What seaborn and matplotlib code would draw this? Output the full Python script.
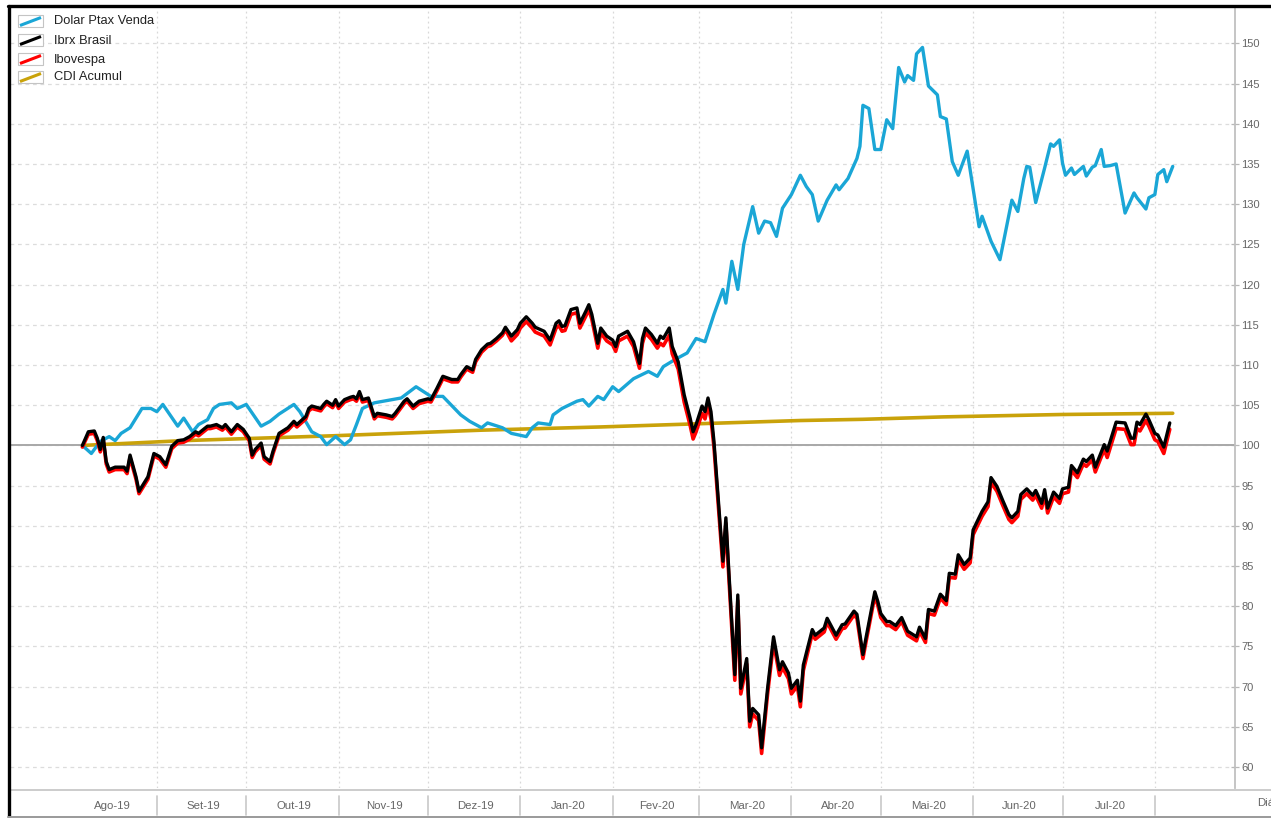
import numpy as np
import pandas as pd
import matplotlib
matplotlib.use("Agg")
import matplotlib.pyplot as plt
import matplotlib.dates as mdates
import matplotlib.transforms as mtransforms
from matplotlib.lines import Line2D
from matplotlib.patches import Rectangle
import seaborn as sns

# ---------------- data (days counted from 2019-08-01) ----------------
dolar_days = [6, 9, 12, 15, 17, 19, 22, 25, 26, 29, 31, 33, 38, 40, 43, 45, 48, 50, 52, 56, 58, 61, 66, 69, 72, 77, 79,
              83, 86, 88, 91, 94, 96, 98, 100, 104, 110, 113, 118, 123, 127, 133, 136, 140, 142, 147, 150, 155, 157, 159,
              163, 164, 167, 172, 174, 176, 179, 181, 184, 186, 191, 196, 199, 201, 205, 209, 212, 215, 218, 221, 222,
              224, 226, 228, 231, 233, 235, 237, 239, 241, 244, 247, 249, 251, 253, 256, 259, 260, 263, 266, 267, 268,
              270, 272, 274, 276, 278, 280, 282, 283, 285, 286, 288, 290, 293, 294, 296, 298, 300, 303, 307, 308, 311,
              314, 318, 320, 322, 323, 324, 326, 329, 331, 332, 334, 335, 336, 338, 339, 342, 343, 345, 346, 348, 349,
              351, 353, 356, 359, 360, 363, 364, 366, 367, 369, 370, 372]
dolar = [100.0, 99.0, 100.5, 101.1, 100.6, 101.5, 102.2, 104.0, 104.6, 104.6, 104.2, 105.1, 102.4, 103.4, 101.7, 102.6,
         103.2, 104.6, 105.1, 105.3, 104.6, 105.1, 102.4, 103.0, 103.9, 105.1, 104.2, 101.7, 101.1, 100.1, 101.1, 100.1,
         100.7, 102.6, 104.6, 105.3, 105.7, 105.9, 107.3, 106.1, 106.1, 103.8, 103.0, 102.2, 102.8, 102.2, 101.5, 101.1,
         102.2, 102.8, 102.6, 103.8, 104.6, 105.5, 105.7, 104.9, 106.1, 105.7, 107.3, 106.7, 108.3, 109.2, 108.6, 109.8,
         110.7, 111.5, 113.3, 112.9, 116.3, 119.4, 117.7, 122.9, 119.4, 125.0, 129.7, 126.4, 127.9, 127.7, 126.0, 129.5,
         131.2, 133.6, 132.2, 131.2, 127.9, 130.5, 132.4, 131.8, 133.2, 135.7, 137.2, 142.3, 141.9, 136.8, 136.8, 140.5,
         139.4, 147.0, 145.2, 146.0, 145.4, 148.7, 149.5, 144.7, 143.6, 140.9, 140.6, 135.3, 133.6, 136.6, 127.2, 128.5,
         125.4, 123.1, 130.5, 129.1, 133.2, 134.7, 134.6, 130.2, 134.5, 137.5, 137.2, 138.0, 135.1, 133.6, 134.5, 133.7,
         134.7, 133.5, 134.6, 134.8, 136.8, 134.7, 134.8, 135.0, 128.9, 131.4, 130.8, 129.4, 130.8, 131.2, 133.7, 134.3,
         132.8, 134.7]

ibrx_days = [6, 8, 10, 11, 12, 13, 14, 15, 17, 20, 21, 22, 24, 25, 27, 28, 30, 32, 34, 36, 38, 40, 42, 44, 45, 48, 49,
             51, 53, 54, 56, 58, 60, 62, 63, 64, 66, 67, 69, 70, 72, 75, 77, 78, 81, 82, 83, 86, 87, 88, 90, 91, 92, 94,
             96, 97, 98, 99, 100, 102, 104, 105, 108, 110, 111, 114, 115, 117, 119, 122, 123, 125, 127, 130, 132, 133,
             135, 137, 138, 140, 142, 143, 145, 147, 148, 150, 152, 153, 155, 157, 158, 161, 163, 165, 166, 167, 168,
             170, 172, 173, 175, 176, 177, 179, 180, 182, 184, 185, 186, 187, 189, 191, 193, 194, 195, 197, 199, 200,
             201, 203, 204, 206, 208, 210, 211, 212, 214, 215, 216, 217, 218, 219, 221, 222, 223, 225, 226, 227, 229,
             230, 231, 233, 234, 236, 238, 240, 241, 243, 244, 246, 247, 248, 250, 251, 252, 255, 256, 259, 261, 262,
             265, 266, 268, 269, 272, 273, 274, 276, 277, 279, 281, 283, 286, 287, 289, 290, 292, 294, 296, 297, 299,
             300, 302, 304, 305, 308, 310, 311, 313, 315, 317, 318, 320, 321, 323, 325, 326, 328, 329, 330, 332, 334,
             335, 337, 338, 340, 342, 343, 345, 346, 349, 350, 353, 356, 358, 359, 360, 361, 363, 364, 366, 367, 369,
             370, 371]
ibrx = [100.0, 101.7, 101.8, 100.9, 99.5, 101.0, 98.0, 97.0, 97.3, 97.3, 96.8, 98.8, 96.1, 94.3, 95.5, 96.1, 99.0, 98.6,
        97.6, 99.9, 100.6, 100.7, 101.1, 101.7, 101.5, 102.4, 102.4, 102.6, 102.2, 102.6, 101.7, 102.6, 102.0, 100.9,
        98.8, 99.5, 100.3, 98.6, 98.0, 99.3, 101.5, 102.2, 103.0, 102.6, 103.6, 104.6, 104.9, 104.6, 105.1, 105.5, 105.0,
        105.7, 104.9, 105.7, 106.0, 106.1, 105.8, 106.7, 105.7, 105.9, 103.6, 104.0, 103.8, 103.6, 104.0, 105.5, 105.8,
        104.9, 105.5, 105.8, 105.7, 107.1, 108.6, 108.2, 108.2, 108.8, 109.8, 109.4, 110.7, 111.9, 112.6, 112.7, 113.3,
        114.0, 114.7, 113.6, 114.4, 115.2, 116.0, 115.2, 114.7, 114.2, 113.1, 115.2, 115.5, 114.8, 114.9, 116.9, 117.1,
        115.2, 116.7, 117.5, 116.3, 112.7, 114.6, 113.6, 113.1, 112.3, 113.6, 113.8, 114.2, 112.9, 110.2, 113.3, 114.6,
        113.8, 112.7, 113.6, 113.3, 114.6, 112.3, 110.4, 106.3, 103.4, 101.7, 102.6, 104.9, 104.2, 105.9, 104.2, 100.5,
        95.5, 85.6, 91.0, 84.3, 71.5, 81.4, 69.8, 73.5, 65.7, 67.3, 66.5, 62.4, 69.8, 76.2, 72.1, 73.1, 71.7, 69.8, 70.8,
        68.2, 72.7, 75.6, 77.1, 76.4, 77.3, 78.5, 76.4, 77.7, 77.8, 79.4, 79.0, 74.0, 76.0, 81.8, 80.6, 79.1, 78.1, 78.1,
        77.6, 78.6, 76.9, 76.2, 77.4, 76.0, 79.6, 79.4, 81.5, 80.7, 84.1, 84.0, 86.4, 85.2, 86.0, 89.5, 91.8, 93.0, 96.0,
        94.9, 93.1, 91.4, 91.0, 91.8, 93.9, 94.6, 93.8, 94.4, 92.8, 94.5, 92.2, 94.2, 93.4, 94.6, 94.8, 97.5, 96.6, 98.3,
        98.0, 98.8, 97.3, 100.1, 99.3, 102.9, 102.8, 100.9, 100.9, 102.9, 102.6, 103.9, 103.2, 101.5, 101.3, 99.8, 101.3,
        102.8]
ibov = [99.8, 101.4, 101.5, 100.6, 99.2, 100.7, 97.7, 96.7, 97.0, 97.0, 96.5, 98.5, 95.8, 94.0, 95.2, 95.8, 98.7, 98.3,
        97.3, 99.6, 100.3, 100.4, 100.8, 101.4, 101.2, 102.1, 102.1, 102.3, 101.9, 102.3, 101.4, 102.3, 101.7, 100.6,
        98.5, 99.2, 100.0, 98.3, 97.7, 99.0, 101.2, 101.9, 102.7, 102.3, 103.3, 104.3, 104.6, 104.3, 104.8, 105.2, 104.7,
        105.4, 104.6, 105.4, 105.7, 105.8, 105.5, 106.4, 105.4, 105.6, 103.3, 103.7, 103.5, 103.3, 103.7, 105.2, 105.5,
        104.6, 105.2, 105.5, 105.4, 106.8, 108.3, 107.9, 107.9, 108.5, 109.5, 109.1, 110.4, 111.6, 112.3, 112.4, 113.0,
        113.7, 114.4, 113.0, 113.8, 114.6, 115.4, 114.6, 114.1, 113.6, 112.5, 114.6, 114.9, 114.2, 114.3, 116.3, 116.5,
        114.6, 116.1, 116.9, 115.7, 112.1, 114.0, 113.0, 112.5, 111.7, 113.0, 113.2, 113.6, 112.3, 109.6, 112.7, 114.0,
        113.2, 112.1, 112.7, 112.4, 113.7, 111.4, 109.5, 105.4, 102.5, 100.8, 101.7, 104.0, 103.3, 105.0, 103.3, 99.8,
        94.8, 84.9, 90.3, 83.6, 70.8, 80.7, 69.1, 72.8, 65.0, 66.6, 65.8, 61.7, 69.1, 75.5, 71.4, 72.4, 71.0, 69.1, 70.1,
        67.5, 72.0, 75.1, 76.6, 75.9, 76.8, 78.0, 75.9, 77.2, 77.3, 78.9, 78.5, 73.5, 75.5, 81.3, 80.1, 78.6, 77.6, 77.6,
        77.1, 78.1, 76.4, 75.7, 76.9, 75.5, 79.1, 78.9, 81.0, 80.2, 83.6, 83.5, 85.8, 84.6, 85.4, 88.9, 91.2, 92.4, 95.4,
        94.3, 92.5, 90.8, 90.4, 91.2, 93.3, 94.0, 93.2, 93.8, 92.2, 93.9, 91.6, 93.6, 92.8, 94.0, 94.2, 96.9, 96.0, 97.7,
        97.4, 98.2, 96.7, 99.5, 98.5, 102.1, 102.0, 100.1, 100.1, 102.1, 101.8, 103.1, 102.4, 100.7, 100.5, 99.0, 100.5,
        102.0]

cdi_days = [6, 40, 90, 140, 180, 213, 247, 268, 295, 335, 372]
cdi = [100.0, 100.6, 101.2, 101.9, 102.3, 102.7, 103.1, 103.25, 103.55, 103.85, 104.0]

series_names = ["Dolar Ptax Venda", "Ibrx Brasil", "Ibovespa", "CDI Acumul"]
series_colors = ["#1aa6d6", "#000000", "#ff0000", "#c9a20a"]
month_labels = ["Ago-19", "Set-19", "Out-19", "Nov-19", "Dez-19", "Jan-20", "Fev-20", "Mar-20",
                "Abr-20", "Mai-20", "Jun-20", "Jul-20"]
y_ticks = list(range(60, 151, 5))

# ---------------- figure ----------------
sns.set_style("white")
plt.rcParams["font.family"] = ["Liberation Sans", "DejaVu Sans"]

W, H = 1271, 818
fig = plt.figure(figsize=(W / 100, H / 100), dpi=100)
fig.patch.set_facecolor("white")
ax = fig.add_axes([10 / W, 1 - 788 / H, (1235 - 10) / W, (788 - 8) / H])
ax.set_facecolor("white")

base = pd.Timestamp("2019-08-01")


def to_dates(days):
    return base + pd.to_timedelta(np.asarray(days, dtype=float), unit="D")


df_dolar = pd.DataFrame({"date": to_dates(dolar_days), "v": dolar})
df_ibrx = pd.DataFrame({"date": to_dates(ibrx_days), "v": ibrx})
df_ibov = pd.DataFrame({"date": to_dates(ibrx_days), "v": ibov})
df_cdi = pd.DataFrame({"date": to_dates(cdi_days), "v": cdi})

ax.axhline(100, color="#a8a8a8", lw=1.4, zorder=1.5)
sns.lineplot(data=df_cdi, x="date", y="v", ax=ax, color=series_colors[3], lw=2.6,
             estimator=None, sort=False, zorder=3)
sns.lineplot(data=df_dolar, x="date", y="v", ax=ax, color=series_colors[0], lw=2.4,
             estimator=None, sort=False, zorder=4)
sns.lineplot(data=df_ibov, x="date", y="v", ax=ax, color=series_colors[2], lw=2.6,
             estimator=None, sort=False, zorder=5)
sns.lineplot(data=df_ibrx, x="date", y="v", ax=ax, color=series_colors[1], lw=2.4,
             estimator=None, sort=False, zorder=6)

# axes limits
x0 = mdates.date2num(base - pd.Timedelta(days=18.3))
x1 = mdates.date2num(base + pd.Timedelta(days=392.9))
ax.set_xlim(x0, x1)
ax.set_ylim(57.4, 154.4)
ax.set_xlabel("")
ax.set_ylabel("")

# month boundaries
month_starts = pd.date_range("2019-09-01", "2020-08-01", freq="MS")
ax.set_xticks(mdates.date2num(month_starts))
ax.tick_params(axis="x", length=0, labelbottom=False)
ax.grid(axis="x", color="#d8d8d8", ls=(0, (1.5, 2.5)), lw=0.9)

ax.yaxis.tick_right()
ax.set_yticks(y_ticks)
ax.tick_params(axis="y", direction="inout", length=6, width=0.9, color="#b8b8b8",
               labelsize=8, labelcolor="#666666", pad=1.5, left=False)
ax.grid(axis="y", color="#dcdcdc", ls=(0, (3, 3)), lw=0.9)
ax.set_axisbelow(True)

for s in ["top", "left", "bottom"]:
    ax.spines[s].set_visible(False)
ax.spines["right"].set_color("#c0c0c0")
ax.spines["right"].set_linewidth(1.3)

# ---------------- x band (month labels) ----------------
def fy(ypix):
    return 1 - ypix / H


fig.add_artist(Line2D([10 / W, 1.0], [fy(790), fy(790)], color="#c8c8c8", lw=1.3))
blend = mtransforms.blended_transform_factory(ax.transData, fig.transFigure)
for ms in month_starts:
    xm = mdates.date2num(ms)
    ax.add_line(Line2D([xm, xm], [fy(796), fy(815)], transform=blend, color="#c8c8c8",
                       lw=1.2, clip_on=False))
label_months = pd.date_range("2019-08-01", "2020-07-01", freq="MS")
for ms, lab in zip(label_months, month_labels):
    mid = mdates.date2num(ms + pd.Timedelta(days=ms.days_in_month / 2.0 + 0.5))
    ax.text(mid, fy(806), lab, transform=blend, ha="center", va="center", fontsize=8.2,
            color="#666666", clip_on=False)
fig.text(1257 / W, fy(803), "Diário", ha="left", va="center", fontsize=8.2, color="#666666")

# ---------------- frame ----------------
fig.add_artist(Line2D([8 / W, 1.0], [fy(6), fy(6)], color="black", lw=2.4))
fig.add_artist(Line2D([8.5 / W, 8.5 / W], [fy(6), 0.0], color="black", lw=2.4))
fig.add_artist(Line2D([8 / W, 1.0], [fy(816.5), fy(816.5)], color="#9a9a9a", lw=1.4))

# ---------------- legend ----------------
tops = [15, 34, 53, 71]
for top, name, col in zip(tops, series_names, series_colors):
    fig.add_artist(Rectangle((18 / W, fy(top + 12)), 25 / W, 12 / H, transform=fig.transFigure,
                             facecolor="white", edgecolor="#c4c4c4", lw=0.8))
    fig.add_artist(Line2D([20 / W, 41 / W], [fy(top + 10.5), fy(top + 2.5)], color=col,
                          lw=2.2, solid_capstyle="butt"))
    fig.text(54 / W, fy(top + 6.5), name, ha="left", va="center", fontsize=9.3, color="#222222")

fig.savefig("out.png", dpi=100)
